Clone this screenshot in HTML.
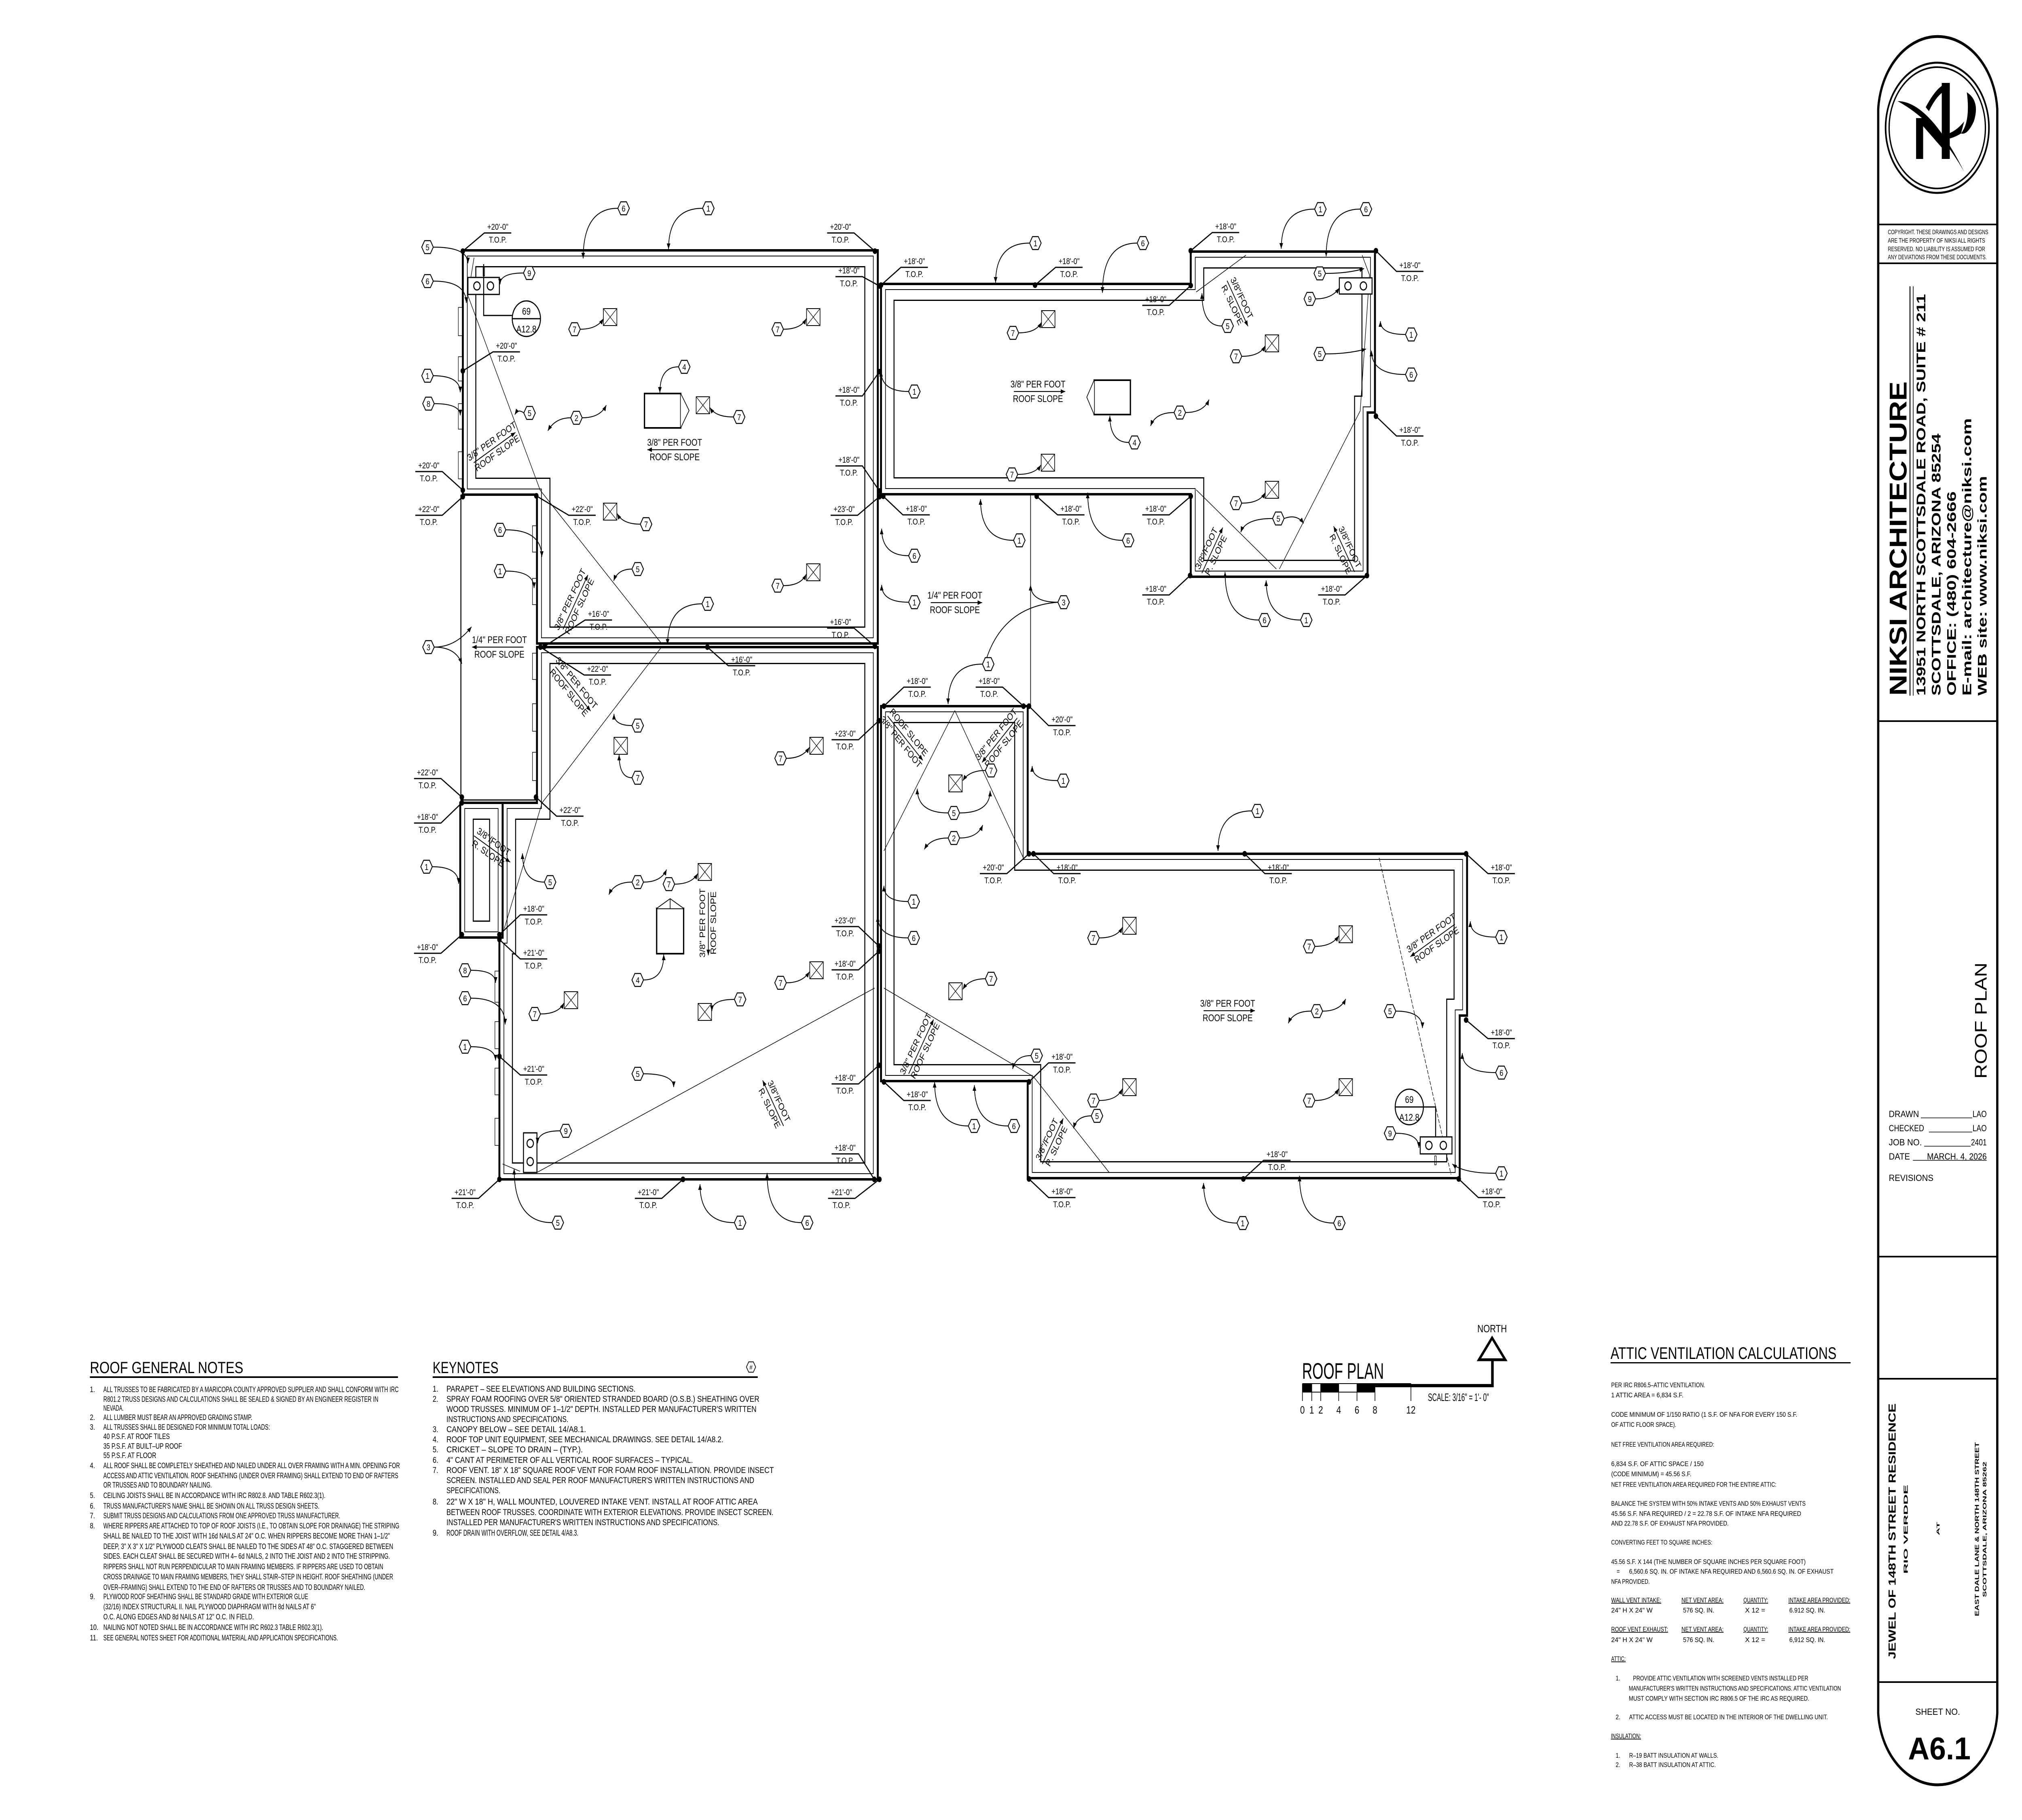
<!DOCTYPE html>
<html><head><meta charset="utf-8"><style>
html,body{margin:0;padding:0;background:#fff;overflow:hidden;width:100%;height:100%}
svg{display:block;position:absolute;left:0;top:0;width:100vw;height:100vh}
.p{font-family:"Liberation Sans Narrow","Liberation Sans",sans-serif;fill:#000}
.q{font-family:"Liberation Sans",sans-serif;fill:#000}
.s84{fill:none;stroke:#000;stroke-width:84}
.w78{fill:none;stroke:#fff;stroke-width:78}
.s30{fill:none;stroke:#000;stroke-width:30}
.w26{fill:none;stroke:#fff;stroke-width:26}
.o{fill:none;stroke:#000;stroke-width:6}
.ln{fill:none;stroke:#000;stroke-width:2}
.ld{fill:none;stroke:#000;stroke-width:2.2;marker-end:url(#ah)}
.el path{fill:none;stroke:#000;stroke-width:3}
.el text{font-family:"Liberation Sans Narrow","Liberation Sans",sans-serif;font-size:21px;text-anchor:middle}
.hx use{fill:#fff;stroke:#000;stroke-width:2.5}
.hx text{font-family:"Liberation Sans",sans-serif;font-size:21px;text-anchor:middle;fill:#000}
.sl text{font-family:"Liberation Sans Narrow","Liberation Sans",sans-serif;font-size:24px;text-anchor:middle}
</style></head><body>
<svg viewBox="0 0 6300 4500" preserveAspectRatio="none" xmlns="http://www.w3.org/2000/svg">
<defs>
<marker id="ah" viewBox="0 0 10 10" refX="10" refY="5" markerWidth="18" markerHeight="14" markerUnits="userSpaceOnUse" orient="auto"><path d="M0,1 L10,5 L0,9 z" fill="#000"/></marker>
<polygon id="pA" points="1442,619 2735,619 2735,1591 1673,1591 1673,1223 1442,1223"/>
<polygon id="pB" points="1673,1600 2735,1600 2735,2916 1556,2916 1556,2318 1566,2318 1566,1985 1673,1985"/>
<polygon id="pC" points="1434,1985 1566,1985 1566,2318 1434,2318"/>
<polygon id="pE" points="2745,702 3710,702 3710,622 4284,622 4284,1020 4261,1020 4261,1426 3710,1426 3710,1222 2745,1222"/>
<polygon id="pG" points="2745,1746 3202,1746 3202,2111 4571,2111 4571,2511 4548,2511 4548,2913 3202,2913 3202,2673 2745,2673"/>
<clipPath id="cA"><use href="#pA"/></clipPath>
<clipPath id="cB"><use href="#pB"/></clipPath>
<clipPath id="cC"><use href="#pC"/></clipPath>
<clipPath id="cE"><use href="#pE"/></clipPath>
<clipPath id="cG"><use href="#pG"/></clipPath>
<polygon id="hex" points="-18,0 -9,-16 9,-16 18,0 9,16 -9,16"/>
<g id="vent"><rect x="-21" y="-21" width="42" height="42" fill="#fff" stroke="#000" stroke-width="2"/><path d="M-21,-21 L21,21 M21,-21 L-21,21" stroke="#000" stroke-width="1.5"/></g>
</defs>

<g clip-path="url(#cA)"><use href="#pA" class="s84"/><use href="#pA" class="w78"/><use href="#pA" class="s30"/><use href="#pA" class="w26"/></g>
<g clip-path="url(#cB)"><use href="#pB" class="s84"/><use href="#pB" class="w78"/><use href="#pB" class="s30"/><use href="#pB" class="w26"/></g>
<g clip-path="url(#cC)"><use href="#pC" class="s84"/><use href="#pC" class="w78"/><use href="#pC" class="s30"/><use href="#pC" class="w26"/></g>
<g clip-path="url(#cE)"><use href="#pE" class="s84"/><use href="#pE" class="w78"/><use href="#pE" class="s30"/><use href="#pE" class="w26"/></g>
<g clip-path="url(#cG)"><use href="#pG" class="s84"/><use href="#pG" class="w78"/><use href="#pG" class="s30"/><use href="#pG" class="w26"/></g>
<use href="#pA" class="o"/><use href="#pB" class="o"/><use href="#pC" class="o"/><use href="#pE" class="o"/><use href="#pG" class="o"/>
<path d="M1436,1223 V1978 H1673" fill="none" stroke="#000" stroke-width="3"/>
<path d="M3211,1222 V1746" fill="none" stroke="#000" stroke-width="2"/>
<g fill="#fff" stroke="#000" stroke-width="1.5">
<rect x="1428" y="760" width="12" height="70"/><rect x="1428" y="882" width="12" height="60"/><rect x="1428" y="998" width="12" height="63"/><rect x="1428" y="1117" width="12" height="67"/>
<rect x="1542" y="2401" width="12" height="77"/><rect x="1542" y="2526" width="12" height="67"/><rect x="1542" y="2641" width="12" height="66"/><rect x="1542" y="2765" width="12" height="67"/>
<rect x="1659" y="1615" width="12" height="65"/><rect x="1659" y="1740" width="12" height="68"/><rect x="1659" y="1860" width="12" height="70"/><rect x="1659" y="1300" width="12" height="65"/><rect x="1659" y="1430" width="12" height="65"/>
</g>
<g class="ln" style="stroke-width:1.6">
<path d="M1477,637 L1458,731 L1683,1212 L2061,1591"/>
<path d="M2061,1600 L1689,1985 L1571,2296"/>
<path d="M1673,2899 L2725,2443"/><path d="M1566,2878 L1620,2896"/>
<path d="M3882,631 L3727,722"/><path d="M4244,631 L4267,680 L4238,1016 L3986,1407"/><path d="M3727,1211 L3977,1407"/>
<path d="M2975,1757 L2754,2104"/><path d="M2975,1757 L3189,2122"/><path d="M2754,2443 L3220,2662 L3456,2899"/>
<path d="M4297,2121 L4521,2904" stroke-dasharray="10,4"/>
</g>

<g fill="#fff" stroke="#000" stroke-width="4">
<rect x="2008" y="973" width="113" height="85"/><path d="M2121,973 L2147,1015 L2121,1058" stroke-width="2"/>
<rect x="3409" y="940" width="113" height="85"/><path d="M3409,940 L3386,982 L3409,1025" stroke-width="2"/>
<rect x="2046" y="2246" width="84" height="112"/><path d="M2046,2246 L2088,2222 L2130,2246 M2088,2222 V2246" stroke-width="2"/>
</g>
<g fill="#fff" stroke="#000" stroke-width="3">
<rect x="1458" y="686" width="98" height="42"/><circle cx="1486" cy="707" r="10"/><circle cx="1528" cy="707" r="10"/>
<rect x="4173" y="687" width="102" height="40"/><circle cx="4200" cy="707" r="10"/><circle cx="4248" cy="707" r="10"/>
<rect x="4425" y="2811" width="99" height="42"/><circle cx="4452" cy="2832" r="10"/><circle cx="4497" cy="2832" r="10"/>
<rect x="1631" y="2801" width="42" height="98"/><circle cx="1652" cy="2827" r="10"/><circle cx="1652" cy="2872" r="10"/>
</g>
<g fill="none" stroke="#000" stroke-width="3">
<path d="M1507,653 V780 H1596"/><rect x="1505" y="660" width="5" height="22" stroke-width="1.5"/>
<circle cx="1640" cy="788" r="44"/><path d="M1596,788 H1684"/>
<path d="M4435,2737 H4473 V2811"/><rect x="4470" y="2858" width="5" height="22" stroke-width="1.5"/>
<circle cx="4391" cy="2737" r="44"/><path d="M4347,2737 H4435"/>
</g>
<g class="q" font-size="24" text-anchor="middle">
<text x="1640" y="778">69</text><text x="1640" y="822">A12.8</text>
<text x="4391" y="2727">69</text><text x="4391" y="2771">A12.8</text>
</g>

<use href="#vent" x="1901" y="784"/><use href="#vent" x="2534" y="784"/><use href="#vent" x="2190" y="1002"/><use href="#vent" x="1901" y="1265"/><use href="#vent" x="2534" y="1415"/>
<use href="#vent" x="1934" y="1844"/><use href="#vent" x="2544" y="1844"/><use href="#vent" x="2196" y="2156"/><use href="#vent" x="1779" y="2473"/><use href="#vent" x="2196" y="2502"/><use href="#vent" x="2544" y="2399"/>
<use href="#vent" x="3266" y="789"/><use href="#vent" x="3963" y="849"/><use href="#vent" x="3265" y="1144"/><use href="#vent" x="3963" y="1211"/>
<use href="#vent" x="2977" y="1937"/><use href="#vent" x="2977" y="2451"/>
<use href="#vent" x="3519" y="2289"/><use href="#vent" x="4193" y="2310"/><use href="#vent" x="3519" y="2688"/><use href="#vent" x="4193" y="2688"/>

<g class="sl">
<g transform="translate(1540,1105) rotate(-30)"><text y="-8">3/8" PER FOOT</text><path d="M-75,2 H75" class="ld"/><text y="26">ROOF SLOPE</text></g>
<g transform="translate(2102,1112)"><text y="-10">3/8" PER FOOT</text><path d="M75,0 H-85" class="ld"/><text y="26">ROOF SLOPE</text></g>
<g transform="translate(1790,1490) rotate(-60)"><text y="-8">3/8" PER FOOT</text><path d="M-75,2 H80" class="ld"/><text y="26">ROOF SLOPE</text></g>
<g transform="translate(1556,1600)"><text y="-10">1/4" PER FOOT</text><path d="M75,0 H-85" class="ld"/><text y="26">ROOF SLOPE</text></g>
<g transform="translate(1530,2095) rotate(30)"><text y="-8">3/8"/FOOT</text><path d="M-60,2 H70" class="ld"/><text y="26">R. SLOPE</text></g>
<g transform="translate(1785,1700) rotate(45)"><text y="-8">3/8" PER FOOT</text><path d="M-75,2 H80" class="ld"/><text y="26">ROOF SLOPE</text></g>
<g transform="translate(2205,2282) rotate(-90)"><text y="-8">3/8" PER FOOT</text><path d="M75,2 H-80" class="ld"/><text y="26">ROOF SLOPE</text></g>
<g transform="translate(2413,2731) rotate(60)"><text y="-8">3/8"/FOOT</text><path d="M60,2 H-70" class="ld"/><text y="26">R. SLOPE</text></g>
<g transform="translate(3234,968)"><text y="-10">3/8" PER FOOT</text><path d="M-75,0 H85" class="ld"/><text y="26">ROOF SLOPE</text></g>
<g transform="translate(3855,745) rotate(60)"><text y="-8">3/8"/FOOT</text><path d="M-60,2 H70" class="ld"/><text y="26">R. SLOPE</text></g>
<g transform="translate(3773,1364) rotate(-60)"><text y="-8">3/8"/FOOT</text><path d="M-60,2 H70" class="ld"/><text y="26">R. SLOPE</text></g>
<g transform="translate(4192,1361) rotate(60)"><text y="-8">3/8"/FOOT</text><path d="M60,2 H-70" class="ld"/><text y="26">R. SLOPE</text></g>
<g transform="translate(2975,1490)"><text y="-10">1/4" PER FOOT</text><path d="M-75,0 H85" class="ld"/><text y="26">ROOF SLOPE</text></g>
<g transform="translate(2820,1822) rotate(45)"><text y="-8">ROOF SLOPE</text><path d="M-75,2 H80" class="ld"/><text y="26">3/8" PER FOOT</text></g>
<g transform="translate(3115,1827) rotate(-45)"><text y="-8">3/8" PER FOOT</text><path d="M75,2 H-80" class="ld"/><text y="26">ROOF SLOPE</text></g>
<g transform="translate(2867,2589) rotate(-60)"><text y="-8">3/8" PER FOOT</text><path d="M-75,2 H80" class="ld"/><text y="26">ROOF SLOPE</text></g>
<g transform="translate(3825,2499)"><text y="-10">3/8" PER FOOT</text><path d="M-75,0 H85" class="ld"/><text y="26">ROOF SLOPE</text></g>
<g transform="translate(4467,2321) rotate(-30)"><text y="-8">3/8" PER FOOT</text><path d="M75,2 H-85" class="ld"/><text y="26">ROOF SLOPE</text></g>
<g transform="translate(3276,2825) rotate(-60)"><text y="-8">3/8"/FOOT</text><path d="M-60,2 H70" class="ld"/><text y="26">R. SLOPE</text></g>
</g>

<g class="el">
<path d="M1442 621 L1509 576 H1593"/><text x="1551" y="568">+20'-0"</text><text x="1551" y="600">T.O.P.</text>
<path d="M2726 621 L2661 576 H2577"/><text x="2619" y="568">+20'-0"</text><text x="2619" y="600">T.O.P.</text>
<path d="M2740 707 L2687 684 H2603"/><text x="2645" y="676">+18'-0"</text><text x="2645" y="708">T.O.P.</text>
<path d="M1442 917 L1536 870 H1620"/><text x="1578" y="862">+20'-0"</text><text x="1578" y="894">T.O.P.</text>
<path d="M1442 1212 L1378 1166 H1294"/><text x="1336" y="1158">+20'-0"</text><text x="1336" y="1190">T.O.P.</text>
<path d="M1442 1228 L1378 1274 H1294"/><text x="1336" y="1266">+22'-0"</text><text x="1336" y="1298">T.O.P.</text>
<path d="M1671 1226 L1772 1274 H1856"/><text x="1814" y="1266">+22'-0"</text><text x="1814" y="1298">T.O.P.</text>
<path d="M2740 919 L2687 979 H2603"/><text x="2645" y="971">+18'-0"</text><text x="2645" y="1003">T.O.P.</text>
<path d="M2740 1214 L2687 1152 H2603"/><text x="2645" y="1144">+18'-0"</text><text x="2645" y="1176">T.O.P.</text>
<path d="M2740 1228 L2672 1274 H2588"/><text x="2630" y="1266">+23'-0"</text><text x="2630" y="1298">T.O.P.</text>
<path d="M1697 1598 L1823 1533 H1907"/><text x="1865" y="1525">+16'-0"</text><text x="1865" y="1557">T.O.P.</text>
<path d="M2726 1598 L2661 1553 H2577"/><text x="2619" y="1545">+16'-0"</text><text x="2619" y="1577">T.O.P.</text>
<path d="M1684 1600 L1820 1669 H1904"/><text x="1862" y="1661">+22'-0"</text><text x="1862" y="1693">T.O.P.</text>
<path d="M2204 1600 L2269 1646 H2353"/><text x="2311" y="1638">+16'-0"</text><text x="2311" y="1670">T.O.P.</text>
<path d="M2738 1782 L2675 1829 H2591"/><text x="2633" y="1821">+23'-0"</text><text x="2633" y="1853">T.O.P.</text>
<path d="M1439 1971 L1374 1925 H1290"/><text x="1332" y="1917">+22'-0"</text><text x="1332" y="1949">T.O.P.</text>
<path d="M1670 1971 L1734 2018 H1818"/><text x="1776" y="2010">+22'-0"</text><text x="1776" y="2042">T.O.P.</text>
<path d="M1439 1985 L1374 2035 H1290"/><text x="1332" y="2027">+18'-0"</text><text x="1332" y="2059">T.O.P.</text>
<path d="M1556 2311 L1621 2262 H1705"/><text x="1663" y="2254">+18'-0"</text><text x="1663" y="2286">T.O.P.</text>
<path d="M1439 2311 L1374 2357 H1290"/><text x="1332" y="2349">+18'-0"</text><text x="1332" y="2381">T.O.P.</text>
<path d="M1556 2323 L1621 2371 H1705"/><text x="1663" y="2363">+21'-0"</text><text x="1663" y="2395">T.O.P.</text>
<path d="M1556 2612 L1621 2658 H1705"/><text x="1663" y="2650">+21'-0"</text><text x="1663" y="2682">T.O.P.</text>
<path d="M2738 2339 L2675 2291 H2591"/><text x="2633" y="2283">+23'-0"</text><text x="2633" y="2315">T.O.P.</text>
<path d="M2738 2352 L2675 2398 H2591"/><text x="2633" y="2390">+18'-0"</text><text x="2633" y="2422">T.O.P.</text>
<path d="M2738 2634 L2675 2680 H2591"/><text x="2633" y="2672">+18'-0"</text><text x="2633" y="2704">T.O.P.</text>
<path d="M1556 2916 L1491 2963 H1407"/><text x="1449" y="2955">+21'-0"</text><text x="1449" y="2987">T.O.P.</text>
<path d="M2128 2916 L2062 2963 H1978"/><text x="2020" y="2955">+21'-0"</text><text x="2020" y="2987">T.O.P.</text>
<path d="M2724 2916 L2675 2853 H2591"/><text x="2633" y="2845">+18'-0"</text><text x="2633" y="2877">T.O.P.</text>
<path d="M2740 2916 L2664 2963 H2580"/><text x="2622" y="2955">+21'-0"</text><text x="2622" y="2987">T.O.P.</text>
<path d="M2745 705 L2807 661 H2891"/><text x="2849" y="653">+18'-0"</text><text x="2849" y="685">T.O.P.</text>
<path d="M3225 705 L3289 661 H3373"/><text x="3331" y="653">+18'-0"</text><text x="3331" y="685">T.O.P.</text>
<path d="M3710 620 L3777 575 H3861"/><text x="3819" y="567">+18'-0"</text><text x="3819" y="599">T.O.P.</text>
<path d="M3710 706 L3643 755 H3559"/><text x="3601" y="747">+18'-0"</text><text x="3601" y="779">T.O.P.</text>
<path d="M4287 620 L4351 671 H4435"/><text x="4393" y="663">+18'-0"</text><text x="4393" y="695">T.O.P.</text>
<path d="M4287 1029 L4351 1078 H4435"/><text x="4393" y="1070">+18'-0"</text><text x="4393" y="1102">T.O.P.</text>
<path d="M2752 1227 L2813 1273 H2897"/><text x="2855" y="1265">+18'-0"</text><text x="2855" y="1297">T.O.P.</text>
<path d="M3230 1227 L3295 1273 H3379"/><text x="3337" y="1265">+18'-0"</text><text x="3337" y="1297">T.O.P.</text>
<path d="M3710 1227 L3643 1273 H3559"/><text x="3601" y="1265">+18'-0"</text><text x="3601" y="1297">T.O.P.</text>
<path d="M3708 1423 L3643 1471 H3559"/><text x="3601" y="1463">+18'-0"</text><text x="3601" y="1495">T.O.P.</text>
<path d="M4259 1423 L4191 1471 H4107"/><text x="4149" y="1463">+18'-0"</text><text x="4149" y="1495">T.O.P.</text>
<path d="M2754 1746 L2816 1699 H2900"/><text x="2858" y="1691">+18'-0"</text><text x="2858" y="1723">T.O.P.</text>
<path d="M3189 1746 L3124 1699 H3040"/><text x="3082" y="1691">+18'-0"</text><text x="3082" y="1723">T.O.P.</text>
<path d="M3206 1746 L3267 1794 H3351"/><text x="3309" y="1786">+20'-0"</text><text x="3309" y="1818">T.O.P.</text>
<path d="M3206 2111 L3137 2160 H3053"/><text x="3095" y="2152">+20'-0"</text><text x="3095" y="2184">T.O.P.</text>
<path d="M3220 2111 L3283 2160 H3367"/><text x="3325" y="2152">+18'-0"</text><text x="3325" y="2184">T.O.P.</text>
<path d="M3878 2111 L3941 2160 H4025"/><text x="3983" y="2152">+18'-0"</text><text x="3983" y="2184">T.O.P.</text>
<path d="M4568 2111 L4636 2160 H4720"/><text x="4678" y="2152">+18'-0"</text><text x="4678" y="2184">T.O.P.</text>
<path d="M4568 2522 L4636 2568 H4720"/><text x="4678" y="2560">+18'-0"</text><text x="4678" y="2592">T.O.P.</text>
<path d="M2754 2675 L2816 2721 H2900"/><text x="2858" y="2713">+18'-0"</text><text x="2858" y="2745">T.O.P.</text>
<path d="M3206 2675 L3267 2628 H3351"/><text x="3309" y="2620">+18'-0"</text><text x="3309" y="2652">T.O.P.</text>
<path d="M3206 2915 L3267 2961 H3351"/><text x="3309" y="2953">+18'-0"</text><text x="3309" y="2985">T.O.P.</text>
<path d="M3874 2915 L3937 2869 H4021"/><text x="3979" y="2861">+18'-0"</text><text x="3979" y="2893">T.O.P.</text>
<path d="M4545 2915 L4606 2961 H4690"/><text x="4648" y="2953">+18'-0"</text><text x="4648" y="2985">T.O.P.</text>
</g>
<g fill="#000">
<circle cx="1442" cy="621" r="7"/><circle cx="2726" cy="621" r="7"/><circle cx="2740" cy="707" r="7"/><circle cx="1442" cy="917" r="7"/><circle cx="1442" cy="1212" r="7"/><circle cx="1442" cy="1228" r="7"/><circle cx="1671" cy="1226" r="7"/><circle cx="2740" cy="919" r="7"/><circle cx="2740" cy="1214" r="7"/><circle cx="2740" cy="1228" r="7"/><circle cx="1697" cy="1598" r="7"/><circle cx="2726" cy="1598" r="7"/>
<circle cx="1684" cy="1600" r="7"/><circle cx="2204" cy="1600" r="7"/><circle cx="2738" cy="1782" r="7"/><circle cx="1439" cy="1971" r="7"/><circle cx="1670" cy="1971" r="7"/><circle cx="1439" cy="1985" r="7"/><circle cx="1556" cy="2311" r="7"/><circle cx="1439" cy="2311" r="7"/><circle cx="1556" cy="2323" r="7"/><circle cx="1556" cy="2612" r="7"/><circle cx="2738" cy="2339" r="7"/><circle cx="2738" cy="2352" r="7"/><circle cx="2738" cy="2634" r="7"/><circle cx="1556" cy="2916" r="7"/><circle cx="2128" cy="2916" r="7"/><circle cx="2724" cy="2916" r="7"/><circle cx="2740" cy="2916" r="7"/>
<circle cx="2745" cy="705" r="7"/><circle cx="3225" cy="705" r="7"/><circle cx="3710" cy="620" r="7"/><circle cx="3710" cy="706" r="7"/><circle cx="4287" cy="620" r="7"/><circle cx="4287" cy="1029" r="7"/><circle cx="2752" cy="1227" r="7"/><circle cx="3230" cy="1227" r="7"/><circle cx="3710" cy="1227" r="7"/><circle cx="3708" cy="1423" r="7"/><circle cx="4259" cy="1423" r="7"/>
<circle cx="2754" cy="1746" r="7"/><circle cx="3189" cy="1746" r="7"/><circle cx="3206" cy="1746" r="7"/><circle cx="3206" cy="2111" r="7"/><circle cx="3220" cy="2111" r="7"/><circle cx="3878" cy="2111" r="7"/><circle cx="4568" cy="2111" r="7"/><circle cx="4568" cy="2522" r="7"/><circle cx="2754" cy="2675" r="7"/><circle cx="3206" cy="2675" r="7"/><circle cx="3206" cy="2915" r="7"/><circle cx="3874" cy="2915" r="7"/><circle cx="4545" cy="2915" r="7"/>
</g>

<g class="ld">
<path d="M1925 515 Q1817 515 1817 639"/><path d="M2189 515 Q2083 515 2083 616"/><path d="M1350 611 Q1458 611 1458 651"/><path d="M1350 695 Q1453 695 1453 749"/><path d="M1631 675 Q1558 675 1558 703"/><path d="M1350 929 Q1434 929 1434 970"/><path d="M1353 998 Q1434 998 1434 1027"/><path d="M1632 1021 Q1615 1010 1604 1025"/><path d="M1778 1033 Q1730 1033 1707 1065"/><path d="M1814 1033 Q1870 1033 1889 1002"/><path d="M2114 907 Q2056 907 2056 971"/><path d="M1808 814 Q1860 814 1880 788"/><path d="M2441 814 Q2495 814 2512 788"/><path d="M2285 1031 Q2230 1031 2212 1008"/><path d="M1995 1296 Q1940 1296 1923 1270"/><path d="M2441 1448 Q2495 1448 2512 1420"/><path d="M1576 1310 Q1688 1310 1688 1377"/><path d="M1576 1412 Q1664 1412 1664 1454"/><path d="M1969 1407 Q1925 1407 1912 1436"/><path d="M2187 1493 Q2080 1493 2080 1594"/><path d="M1353 1600 Q1420 1600 1469 1550"/><path d="M1353 1600 Q1420 1600 1439 1641"/>
<path d="M1969 1794 Q1913 1794 1913 1765"/><path d="M1969 1923 Q1929 1923 1929 1866"/><path d="M2450 1875 Q2500 1875 2522 1848"/><path d="M1696 2181 Q1628 2181 1628 2110"/><path d="M1969 2181 Q1915 2181 1897 2212"/><path d="M2005 2181 Q2060 2181 2077 2150"/><path d="M2102 2186 Q2155 2186 2174 2160"/><path d="M2005 2423 Q2068 2423 2068 2360"/><path d="M1467 2399 Q1544 2399 1544 2430"/><path d="M1467 2468 Q1574 2468 1574 2533"/><path d="M1467 2588 Q1544 2588 1544 2622"/><path d="M1684 2507 Q1740 2507 1757 2480"/><path d="M2288 2471 Q2218 2471 2218 2500"/><path d="M2450 2430 Q2500 2430 2522 2403"/><path d="M2005 2655 Q2099 2655 2099 2688"/><path d="M1745 2796 Q1675 2796 1675 2827"/><path d="M1720 3023 Q1602 3023 1602 2890"/><path d="M2288 3023 Q2181 3023 2181 2928"/><path d="M2497 3023 Q2390 3023 2390 2900"/><path d="M1347 2143 Q1429 2143 1429 2185"/>
<path d="M3208 601 Q3102 601 3102 699"/><path d="M3543 601 Q3435 601 3435 724"/><path d="M4096 517 Q3992 517 3992 615"/><path d="M4238 517 Q4132 517 4132 634"/><path d="M4130 676 Q4200 676 4250 664"/><path d="M4099 739 Q4150 739 4173 712"/><path d="M3807 806 Q3745 806 3745 725"/><path d="M4379 827 Q4301 827 4301 794"/><path d="M4130 875 Q4200 875 4256 863"/><path d="M4379 926 Q4273 926 4273 867"/><path d="M3174 823 Q3228 823 3245 797"/><path d="M3869 881 Q3925 881 3942 855"/><path d="M2831 968 Q2745 968 2745 917"/><path d="M3517 1094 Q3458 1094 3458 1028"/><path d="M3658 1020 Q3600 1020 3585 1053"/><path d="M3694 1020 Q3750 1020 3767 988"/><path d="M3171 1173 Q3225 1173 3243 1150"/><path d="M3869 1244 Q3925 1244 3942 1218"/><path d="M3965 1282 Q3880 1282 3866 1316"/><path d="M4001 1282 Q4040 1270 4062 1294"/><path d="M3158 1336 Q3055 1336 3055 1234"/><path d="M3497 1336 Q3389 1336 3389 1218"/><path d="M2831 1374 Q2747 1374 2747 1307"/><path d="M2831 1489 Q2747 1489 2747 1446"/><path d="M3296 1489 Q3211 1489 3211 1446"/><path d="M3296 1489 Q3120 1500 3069 1640"/><path d="M3922 1533 Q3817 1533 3817 1414"/><path d="M4052 1533 Q3945 1533 3945 1435"/>
<path d="M3061 1642 Q2954 1642 2954 1741"/><path d="M3295 1930 Q3216 1930 3216 1894"/><path d="M3070 1905 Q3020 1905 3000 1930"/><path d="M2954 2010 Q2858 2010 2858 1950"/><path d="M2990 2010 Q3085 2010 3085 1955"/><path d="M2954 2072 Q2900 2072 2880 2100"/><path d="M2990 2072 Q3045 2072 3062 2040"/><path d="M2829 2229 Q2754 2229 2754 2190"/><path d="M2829 2319 Q2735 2319 2735 2265"/><path d="M3070 2420 Q3020 2420 3000 2446"/><path d="M3900 2005 Q3795 2005 3795 2104"/><path d="M3425 2319 Q3480 2319 3497 2293"/><path d="M4097 2340 Q4150 2340 4171 2314"/><path d="M4085 2500 Q4030 2500 4014 2530"/><path d="M4121 2500 Q4175 2500 4193 2470"/><path d="M4349 2500 Q4432 2500 4432 2542"/><path d="M4660 2317 Q4581 2317 4581 2278"/><path d="M4660 2652 Q4556 2652 4556 2604"/><path d="M3212 2610 Q3165 2610 3155 2643"/><path d="M3017 2784 Q2912 2784 2912 2675"/><path d="M3141 2784 Q3036 2784 3036 2683"/><path d="M3425 2721 Q3480 2721 3497 2692"/><path d="M4097 2721 Q4150 2721 4171 2692"/><path d="M3400 2759 Q3355 2759 3345 2790"/><path d="M4349 2802 Q4421 2802 4421 2838"/><path d="M4660 2901 Q4560 2901 4525 2878"/><path d="M3854 3024 Q3750 3024 3750 2925"/><path d="M4155 3024 Q4049 3024 4049 2907"/>
</g>

<g class="hx">
<g transform="translate(1943,515)"><use href="#hex"/><text y="8">6</text></g>
<g transform="translate(2207,515)"><use href="#hex"/><text y="8">1</text></g>
<g transform="translate(1332,611)"><use href="#hex"/><text y="8">5</text></g>
<g transform="translate(1332,695)"><use href="#hex"/><text y="8">6</text></g>
<g transform="translate(1649,675)"><use href="#hex"/><text y="8">9</text></g>
<g transform="translate(1332,929)"><use href="#hex"/><text y="8">1</text></g>
<g transform="translate(1335,998)"><use href="#hex"/><text y="8">8</text></g>
<g transform="translate(1650,1021)"><use href="#hex"/><text y="8">5</text></g>
<g transform="translate(1796,1033)"><use href="#hex"/><text y="8">2</text></g>
<g transform="translate(2132,907)"><use href="#hex"/><text y="8">4</text></g>
<g transform="translate(1790,814)"><use href="#hex"/><text y="8">7</text></g>
<g transform="translate(2423,814)"><use href="#hex"/><text y="8">7</text></g>
<g transform="translate(2303,1031)"><use href="#hex"/><text y="8">7</text></g>
<g transform="translate(2013,1296)"><use href="#hex"/><text y="8">7</text></g>
<g transform="translate(2423,1448)"><use href="#hex"/><text y="8">7</text></g>
<g transform="translate(1558,1310)"><use href="#hex"/><text y="8">6</text></g>
<g transform="translate(1558,1412)"><use href="#hex"/><text y="8">1</text></g>
<g transform="translate(1987,1407)"><use href="#hex"/><text y="8">5</text></g>
<g transform="translate(2205,1493)"><use href="#hex"/><text y="8">1</text></g>
<g transform="translate(1335,1600)"><use href="#hex"/><text y="8">3</text></g>
<g transform="translate(1987,1794)"><use href="#hex"/><text y="8">5</text></g>
<g transform="translate(1987,1923)"><use href="#hex"/><text y="8">7</text></g>
<g transform="translate(2432,1875)"><use href="#hex"/><text y="8">7</text></g>
<g transform="translate(1714,2181)"><use href="#hex"/><text y="8">5</text></g>
<g transform="translate(1987,2181)"><use href="#hex"/><text y="8">2</text></g>
<g transform="translate(2084,2186)"><use href="#hex"/><text y="8">7</text></g>
<g transform="translate(1987,2423)"><use href="#hex"/><text y="8">4</text></g>
<g transform="translate(1449,2399)"><use href="#hex"/><text y="8">8</text></g>
<g transform="translate(1449,2468)"><use href="#hex"/><text y="8">6</text></g>
<g transform="translate(1449,2588)"><use href="#hex"/><text y="8">1</text></g>
<g transform="translate(1666,2507)"><use href="#hex"/><text y="8">7</text></g>
<g transform="translate(2306,2471)"><use href="#hex"/><text y="8">7</text></g>
<g transform="translate(2432,2430)"><use href="#hex"/><text y="8">7</text></g>
<g transform="translate(1987,2655)"><use href="#hex"/><text y="8">5</text></g>
<g transform="translate(1763,2796)"><use href="#hex"/><text y="8">9</text></g>
<g transform="translate(1738,3023)"><use href="#hex"/><text y="8">5</text></g>
<g transform="translate(2306,3023)"><use href="#hex"/><text y="8">1</text></g>
<g transform="translate(2515,3023)"><use href="#hex"/><text y="8">6</text></g>
<g transform="translate(1329,2143)"><use href="#hex"/><text y="8">1</text></g>
<g transform="translate(3226,601)"><use href="#hex"/><text y="8">1</text></g>
<g transform="translate(3561,601)"><use href="#hex"/><text y="8">6</text></g>
<g transform="translate(4114,517)"><use href="#hex"/><text y="8">1</text></g>
<g transform="translate(4256,517)"><use href="#hex"/><text y="8">6</text></g>
<g transform="translate(4112,676)"><use href="#hex"/><text y="8">5</text></g>
<g transform="translate(4081,739)"><use href="#hex"/><text y="8">9</text></g>
<g transform="translate(3825,806)"><use href="#hex"/><text y="8">5</text></g>
<g transform="translate(4397,827)"><use href="#hex"/><text y="8">1</text></g>
<g transform="translate(4112,875)"><use href="#hex"/><text y="8">5</text></g>
<g transform="translate(4397,926)"><use href="#hex"/><text y="8">6</text></g>
<g transform="translate(3156,823)"><use href="#hex"/><text y="8">7</text></g>
<g transform="translate(3851,881)"><use href="#hex"/><text y="8">7</text></g>
<g transform="translate(2849,968)"><use href="#hex"/><text y="8">1</text></g>
<g transform="translate(3535,1094)"><use href="#hex"/><text y="8">4</text></g>
<g transform="translate(3676,1020)"><use href="#hex"/><text y="8">2</text></g>
<g transform="translate(3153,1173)"><use href="#hex"/><text y="8">7</text></g>
<g transform="translate(3851,1244)"><use href="#hex"/><text y="8">7</text></g>
<g transform="translate(3983,1282)"><use href="#hex"/><text y="8">5</text></g>
<g transform="translate(3176,1336)"><use href="#hex"/><text y="8">1</text></g>
<g transform="translate(3515,1336)"><use href="#hex"/><text y="8">6</text></g>
<g transform="translate(2849,1374)"><use href="#hex"/><text y="8">6</text></g>
<g transform="translate(2849,1489)"><use href="#hex"/><text y="8">1</text></g>
<g transform="translate(3314,1489)"><use href="#hex"/><text y="8">3</text></g>
<g transform="translate(3940,1533)"><use href="#hex"/><text y="8">6</text></g>
<g transform="translate(4070,1533)"><use href="#hex"/><text y="8">1</text></g>
<g transform="translate(3079,1642)"><use href="#hex"/><text y="8">1</text></g>
<g transform="translate(3313,1930)"><use href="#hex"/><text y="8">1</text></g>
<g transform="translate(3088,1905)"><use href="#hex"/><text y="8">7</text></g>
<g transform="translate(2972,2010)"><use href="#hex"/><text y="8">5</text></g>
<g transform="translate(2972,2072)"><use href="#hex"/><text y="8">2</text></g>
<g transform="translate(2847,2229)"><use href="#hex"/><text y="8">1</text></g>
<g transform="translate(2847,2319)"><use href="#hex"/><text y="8">6</text></g>
<g transform="translate(3088,2420)"><use href="#hex"/><text y="8">7</text></g>
<g transform="translate(3918,2005)"><use href="#hex"/><text y="8">1</text></g>
<g transform="translate(3407,2319)"><use href="#hex"/><text y="8">7</text></g>
<g transform="translate(4079,2340)"><use href="#hex"/><text y="8">7</text></g>
<g transform="translate(4103,2500)"><use href="#hex"/><text y="8">2</text></g>
<g transform="translate(4331,2500)"><use href="#hex"/><text y="8">5</text></g>
<g transform="translate(4678,2317)"><use href="#hex"/><text y="8">1</text></g>
<g transform="translate(4678,2652)"><use href="#hex"/><text y="8">6</text></g>
<g transform="translate(3230,2610)"><use href="#hex"/><text y="8">5</text></g>
<g transform="translate(3035,2784)"><use href="#hex"/><text y="8">1</text></g>
<g transform="translate(3159,2784)"><use href="#hex"/><text y="8">6</text></g>
<g transform="translate(3407,2721)"><use href="#hex"/><text y="8">7</text></g>
<g transform="translate(4079,2721)"><use href="#hex"/><text y="8">7</text></g>
<g transform="translate(3418,2759)"><use href="#hex"/><text y="8">5</text></g>
<g transform="translate(4331,2802)"><use href="#hex"/><text y="8">9</text></g>
<g transform="translate(4678,2901)"><use href="#hex"/><text y="8">1</text></g>
<g transform="translate(3872,3024)"><use href="#hex"/><text y="8">1</text></g>
<g transform="translate(4173,3024)"><use href="#hex"/><text y="8">6</text></g>
</g>

<text class="q" x="4057" y="3409" font-size="56" textLength="255" lengthAdjust="spacingAndGlyphs">ROOF PLAN</text>
<g fill="#000">
<rect x="4058" y="3421" width="29" height="21"/><rect x="4115" y="3421" width="56" height="21"/><rect x="4228" y="3421" width="56" height="21"/>
</g>
<g fill="none" stroke="#000">
<path d="M4058,3421 H4396 M4058,3442 H4284" stroke-width="2"/>
<path d="M4284,3426 H4650 V3363" stroke-width="8"/>
<path d="M4649,3308 L4608,3362 H4690 Z" stroke-width="7"/>
<path d="M4058,3421 V3464 M4087,3421 V3464 M4115,3421 V3464 M4171,3421 V3464 M4228,3421 V3464 M4284,3421 V3464 M4396,3421 V3464" stroke-width="2"/>
</g>
<g class="p" font-size="26" text-anchor="middle">
<text x="4058" y="3495">0</text><text x="4087" y="3495">1</text><text x="4115" y="3495">2</text><text x="4171" y="3495">4</text><text x="4228" y="3495">6</text><text x="4284" y="3495">8</text><text x="4396" y="3495">12</text>
<text x="4649" y="3294">NORTH</text>
</g>
<text class="p" x="4449" y="3464" font-size="27" textLength="190" lengthAdjust="spacingAndGlyphs">SCALE: 3/16" = 1'- 0"</text>

<text class="q" x="280" y="3395" font-size="40" textLength="478" lengthAdjust="spacingAndGlyphs">ROOF GENERAL NOTES</text>
<rect x="280" y="3403" width="960" height="4" fill="#000"/>
<g class="p" font-size="19">
<text x="280" y="3442">1.</text><text x="322" y="3442" textLength="920" lengthAdjust="spacingAndGlyphs">ALL TRUSSES TO BE FABRICATED BY A MARICOPA COUNTY APPROVED SUPPLIER AND SHALL CONFORM WITH IRC</text>
<text x="322" y="3466" textLength="857" lengthAdjust="spacingAndGlyphs">R801.2 TRUSS DESIGNS AND CALCULATIONS SHALL BE SEALED &amp; SIGNED BY AN ENGINEER REGISTER IN</text>
<text x="322" y="3488" textLength="63" lengthAdjust="spacingAndGlyphs">NEVADA.</text>
<text x="280" y="3511">2.</text><text x="322" y="3511" textLength="464" lengthAdjust="spacingAndGlyphs">ALL LUMBER MUST BEAR AN APPROVED GRADING STAMP.</text>
<text x="280" y="3535">3.</text><text x="322" y="3535" textLength="519" lengthAdjust="spacingAndGlyphs">ALL TRUSSES SHALL BE DESIGNED FOR MINIMUM TOTAL LOADS:</text>
<text x="322" y="3558" textLength="207" lengthAdjust="spacingAndGlyphs">40 P.S.F. AT ROOF TILES</text>
<text x="322" y="3582" textLength="245" lengthAdjust="spacingAndGlyphs">35 P.S.F. AT BUILT–UP ROOF</text>
<text x="322" y="3605" textLength="165" lengthAdjust="spacingAndGlyphs">55 P.S.F. AT FLOOR</text>
<text x="280" y="3630">4.</text><text x="322" y="3630" textLength="924" lengthAdjust="spacingAndGlyphs">ALL ROOF SHALL BE COMPLETELY SHEATHED AND NAILED UNDER ALL OVER FRAMING WITH A MIN. OPENING FOR</text>
<text x="322" y="3655" textLength="919" lengthAdjust="spacingAndGlyphs">ACCESS AND ATTIC VENTILATION. ROOF SHEATHING (UNDER OVER FRAMING) SHALL EXTEND TO END OF RAFTERS</text>
<text x="322" y="3678" textLength="338" lengthAdjust="spacingAndGlyphs">OR TRUSSES AND TO BOUNDARY NAILING.</text>
<text x="280" y="3704">5.</text><text x="322" y="3704" textLength="692" lengthAdjust="spacingAndGlyphs">CEILING JOISTS SHALL BE IN ACCORDANCE WITH IRC R802.8. AND TABLE R602.3(1).</text>
<text x="280" y="3730">6.</text><text x="322" y="3730" textLength="673" lengthAdjust="spacingAndGlyphs">TRUSS MANUFACTURER'S NAME SHALL BE SHOWN ON ALL TRUSS DESIGN SHEETS.</text>
<text x="280" y="3754">7.</text><text x="322" y="3754" textLength="738" lengthAdjust="spacingAndGlyphs">SUBMIT TRUSS DESIGNS AND CALCULATIONS FROM ONE APPROVED TRUSS MANUFACTURER.</text>
<text x="280" y="3779">8.</text><text x="322" y="3779" textLength="922" lengthAdjust="spacingAndGlyphs">WHERE RIPPERS ARE ATTACHED TO TOP OF ROOF JOISTS (I.E., TO OBTAIN SLOPE FOR DRAINAGE) THE STRIPING</text>
<text x="322" y="3804" textLength="893" lengthAdjust="spacingAndGlyphs">SHALL BE NAILED TO THE JOIST WITH 16d NAILS AT 24" O.C. WHEN RIPPERS BECOME MORE THAN 1–1/2"</text>
<text x="322" y="3830" textLength="903" lengthAdjust="spacingAndGlyphs">DEEP, 3" X 3" X 1/2" PLYWOOD CLEATS SHALL BE NAILED TO THE SIDES AT 48" O.C. STAGGERED BETWEEN</text>
<text x="322" y="3854" textLength="893" lengthAdjust="spacingAndGlyphs">SIDES. EACH CLEAT SHALL BE SECURED WITH 4– 6d NAILS, 2 INTO THE JOIST AND 2 INTO THE STRIPPING.</text>
<text x="322" y="3880" textLength="872" lengthAdjust="spacingAndGlyphs">RIPPERS SHALL NOT RUN PERPENDICULAR TO MAIN FRAMING MEMBERS. IF RIPPERS ARE USED TO OBTAIN</text>
<text x="322" y="3905" textLength="903" lengthAdjust="spacingAndGlyphs">CROSS DRAINAGE TO MAIN FRAMING MEMBERS, THEY SHALL STAIR–STEP IN HEIGHT. ROOF SHEATHING (UNDER</text>
<text x="322" y="3931" textLength="816" lengthAdjust="spacingAndGlyphs">OVER–FRAMING) SHALL EXTEND TO THE END OF RAFTERS OR TRUSSES AND TO BOUNDARY NAILED.</text>
<text x="280" y="3954">9.</text><text x="322" y="3954" textLength="638" lengthAdjust="spacingAndGlyphs">PLYWOOD ROOF SHEATHING SHALL BE STANDARD GRADE WITH EXTERIOR GLUE</text>
<text x="322" y="3979" textLength="662" lengthAdjust="spacingAndGlyphs">(32/16) INDEX STRUCTURAL II. NAIL PLYWOOD DIAPHRAGM WITH 8d NAILS AT 6"</text>
<text x="322" y="4004" textLength="469" lengthAdjust="spacingAndGlyphs">O.C. ALONG EDGES AND 8d NAILS AT 12" O.C. IN FIELD.</text>
<text x="280" y="4030">10.</text><text x="322" y="4030" textLength="685" lengthAdjust="spacingAndGlyphs">NAILING NOT NOTED SHALL BE IN ACCORDANCE WITH IRC R602.3 TABLE R602.3(1).</text>
<text x="280" y="4056">11.</text><text x="322" y="4056" textLength="731" lengthAdjust="spacingAndGlyphs">SEE GENERAL NOTES SHEET FOR ADDITIONAL MATERIAL AND APPLICATION SPECIFICATIONS.</text>
</g>

<text class="q" x="1348" y="3395" font-size="40" textLength="205" lengthAdjust="spacingAndGlyphs">KEYNOTES</text>
<rect x="1348" y="3403" width="1013" height="4" fill="#000"/>
<g class="hx" transform="translate(2340,3380) scale(0.8)"><use href="#hex"/><text y="8">#</text></g>
<g class="p" font-size="21">
<text x="1348" y="3441">1.</text><text x="1391" y="3441" textLength="589" lengthAdjust="spacingAndGlyphs">PARAPET – SEE ELEVATIONS AND BUILDING SECTIONS.</text>
<text x="1348" y="3466">2.</text><text x="1391" y="3466" textLength="975" lengthAdjust="spacingAndGlyphs">SPRAY FOAM ROOFING OVER 5/8" ORIENTED STRANDED BOARD (O.S.B.) SHEATHING OVER</text>
<text x="1391" y="3491" textLength="966" lengthAdjust="spacingAndGlyphs">WOOD TRUSSES. MINIMUM OF 1–1/2" DEPTH. INSTALLED PER MANUFACTURER'S WRITTEN</text>
<text x="1391" y="3516" textLength="380" lengthAdjust="spacingAndGlyphs">INSTRUCTIONS AND SPECIFICATIONS.</text>
<text x="1348" y="3541">3.</text><text x="1391" y="3541" textLength="435" lengthAdjust="spacingAndGlyphs">CANOPY BELOW – SEE DETAIL 14/A8.1.</text>
<text x="1348" y="3566">4.</text><text x="1391" y="3566" textLength="863" lengthAdjust="spacingAndGlyphs">ROOF TOP UNIT EQUIPMENT, SEE MECHANICAL DRAWINGS. SEE DETAIL 14/A8.2.</text>
<text x="1348" y="3591">5.</text><text x="1391" y="3591" textLength="425" lengthAdjust="spacingAndGlyphs">CRICKET – SLOPE TO DRAIN – (TYP.).</text>
<text x="1348" y="3617">6.</text><text x="1391" y="3617" textLength="768" lengthAdjust="spacingAndGlyphs">4" CANT AT PERIMETER OF ALL VERTICAL ROOF SURFACES – TYPICAL.</text>
<text x="1348" y="3642">7.</text><text x="1391" y="3642" textLength="1020" lengthAdjust="spacingAndGlyphs">ROOF VENT. 18" X 18" SQUARE ROOF VENT FOR FOAM ROOF INSTALLATION. PROVIDE INSECT</text>
<text x="1391" y="3667" textLength="959" lengthAdjust="spacingAndGlyphs">SCREEN. INSTALLED AND SEAL PER ROOF MANUFACTURER'S WRITTEN INSTRUCTIONS AND</text>
<text x="1391" y="3692" textLength="168" lengthAdjust="spacingAndGlyphs">SPECIFICATIONS.</text>
<text x="1348" y="3720">8.</text><text x="1391" y="3720" textLength="970" lengthAdjust="spacingAndGlyphs">22" W X 18" H, WALL MOUNTED, LOUVERED INTAKE VENT. INSTALL AT ROOF ATTIC AREA</text>
<text x="1391" y="3746" textLength="1019" lengthAdjust="spacingAndGlyphs">BETWEEN ROOF TRUSSES. COORDINATE WITH EXTERIOR ELEVATIONS. PROVIDE INSECT SCREEN.</text>
<text x="1391" y="3771" textLength="850" lengthAdjust="spacingAndGlyphs">INSTALLED PER MANUFACTURER'S WRITTEN INSTRUCTIONS AND SPECIFICATIONS.</text>
<text x="1348" y="3797">9.</text><text x="1391" y="3797" textLength="411" lengthAdjust="spacingAndGlyphs">ROOF DRAIN WITH OVERFLOW, SEE DETAIL 4/A8.3.</text>
</g>

<text class="q" x="5018" y="3360" font-size="42" textLength="704" lengthAdjust="spacingAndGlyphs">ATTIC VENTILATION CALCULATIONS</text>
<rect x="5018" y="3368" width="748" height="3" fill="#000"/>
<g class="q" font-size="17">
<text x="5020" y="3430" textLength="293" lengthAdjust="spacingAndGlyphs">PER IRC R806.5–ATTIC VENTILATION.</text>
<text x="5020" y="3455" textLength="225" lengthAdjust="spacingAndGlyphs">1 ATTIC AREA = 6,834 S.F.</text>
<text x="5020" y="3503" textLength="580" lengthAdjust="spacingAndGlyphs">CODE MINIMUM OF 1/150 RATIO (1 S.F. OF NFA FOR EVERY 150 S.F.</text>
<text x="5020" y="3528" textLength="203" lengthAdjust="spacingAndGlyphs">OF ATTIC FLOOR SPACE).</text>
<text x="5020" y="3577" textLength="321" lengthAdjust="spacingAndGlyphs">NET FREE VENTILATION AREA REQUIRED:</text>
<text x="5020" y="3625" textLength="288" lengthAdjust="spacingAndGlyphs">6,834 S.F. OF ATTIC SPACE / 150</text>
<text x="5020" y="3650" textLength="250" lengthAdjust="spacingAndGlyphs">(CODE MINIMUM) = 45.56 S.F.</text>
<text x="5020" y="3676" textLength="515" lengthAdjust="spacingAndGlyphs">NET FREE VENTILATION AREA REQUIRED FOR THE ENTIRE ATTIC:</text>
<text x="5020" y="3723" textLength="606" lengthAdjust="spacingAndGlyphs">BALANCE THE SYSTEM WITH 50% INTAKE VENTS AND 50% EXHAUST VENTS</text>
<text x="5020" y="3748" textLength="592" lengthAdjust="spacingAndGlyphs">45.56 S.F. NFA REQUIRED / 2 = 22.78 S.F. OF INTAKE NFA REQUIRED</text>
<text x="5020" y="3772" textLength="366" lengthAdjust="spacingAndGlyphs">AND 22.78 S.F. OF EXHAUST NFA PROVIDED.</text>
<text x="5020" y="3819" textLength="315" lengthAdjust="spacingAndGlyphs">CONVERTING FEET TO SQUARE INCHES:</text>
<text x="5020" y="3867" textLength="606" lengthAdjust="spacingAndGlyphs">45.56 S.F. X 144 (THE NUMBER OF SQUARE INCHES PER SQUARE FOOT)</text>
<text x="5037" y="3891">=</text><text x="5076" y="3891" textLength="637" lengthAdjust="spacingAndGlyphs">6,560.6 SQ. IN. OF INTAKE NFA REQUIRED AND 6,560.6 SQ. IN. OF EXHAUST</text>
<text x="5020" y="3916" textLength="120" lengthAdjust="spacingAndGlyphs">NFA PROVIDED.</text>
<text x="5020" y="3962" textLength="156" lengthAdjust="spacingAndGlyphs" text-decoration="underline">WALL VENT INTAKE:</text>
<text x="5239" y="3962" textLength="131" lengthAdjust="spacingAndGlyphs" text-decoration="underline">NET VENT AREA:</text>
<text x="5432" y="3962" textLength="77" lengthAdjust="spacingAndGlyphs" text-decoration="underline">QUANTITY:</text>
<text x="5572" y="3962" textLength="193" lengthAdjust="spacingAndGlyphs" text-decoration="underline">INTAKE AREA PROVIDED:</text>
<text x="5020" y="3987" textLength="129" lengthAdjust="spacingAndGlyphs">24" H X 24" W</text>
<text x="5244" y="3987" textLength="97" lengthAdjust="spacingAndGlyphs">576 SQ. IN.</text>
<text x="5437" y="3987" textLength="63" lengthAdjust="spacingAndGlyphs">X 12 =</text>
<text x="5575" y="3987" textLength="112" lengthAdjust="spacingAndGlyphs">6.912 SQ. IN.</text>
<text x="5020" y="4034" textLength="177" lengthAdjust="spacingAndGlyphs" text-decoration="underline">ROOF VENT EXHAUST:</text>
<text x="5239" y="4034" textLength="131" lengthAdjust="spacingAndGlyphs" text-decoration="underline">NET VENT AREA:</text>
<text x="5432" y="4034" textLength="77" lengthAdjust="spacingAndGlyphs" text-decoration="underline">QUANTITY:</text>
<text x="5572" y="4034" textLength="193" lengthAdjust="spacingAndGlyphs" text-decoration="underline">INTAKE AREA PROVIDED:</text>
<text x="5020" y="4060" textLength="129" lengthAdjust="spacingAndGlyphs">24" H X 24" W</text>
<text x="5244" y="4060" textLength="97" lengthAdjust="spacingAndGlyphs">576 SQ. IN.</text>
<text x="5437" y="4060" textLength="63" lengthAdjust="spacingAndGlyphs">X 12 =</text>
<text x="5575" y="4060" textLength="112" lengthAdjust="spacingAndGlyphs">6,912 SQ. IN.</text>
<text x="5020" y="4107" textLength="45" lengthAdjust="spacingAndGlyphs" text-decoration="underline">ATTIC:</text>
<text x="5034" y="4155">1.</text><text x="5088" y="4155" textLength="546" lengthAdjust="spacingAndGlyphs">PROVIDE ATTIC VENTILATION WITH SCREENED VENTS INSTALLED PER</text>
<text x="5075" y="4180" textLength="661" lengthAdjust="spacingAndGlyphs">MANUFACTURER'S WRITTEN INSTRUCTIONS AND SPECIFICATIONS. ATTIC VENTILATION</text>
<text x="5075" y="4205" textLength="562" lengthAdjust="spacingAndGlyphs">MUST COMPLY WITH SECTION IRC R806.5 OF THE IRC AS REQUIRED.</text>
<text x="5034" y="4251">2.</text><text x="5076" y="4251" textLength="619" lengthAdjust="spacingAndGlyphs">ATTIC ACCESS MUST BE LOCATED IN THE INTERIOR OF THE DWELLING UNIT.</text>
<text x="5019" y="4298" textLength="94" lengthAdjust="spacingAndGlyphs" text-decoration="underline">INSULATION:</text>
<text x="5034" y="4346">1.</text><text x="5076" y="4346" textLength="278" lengthAdjust="spacingAndGlyphs">R–19 BATT INSULATION AT WALLS.</text>
<text x="5034" y="4369">2.</text><text x="5076" y="4369" textLength="270" lengthAdjust="spacingAndGlyphs">R–38 BATT INSULATION AT ATTIC.</text>
</g>

<path d="M5852,4236 V270 A186,194 0 0 1 6223,270 V4236 A186,191 0 0 1 5852,4236 Z" fill="none" stroke="#000" stroke-width="7"/>
<g stroke="#000" stroke-width="4">
<path d="M5852,555 H6223 M5852,651 H6223 M5852,1783 H6223 M5852,3107 H6223 M5852,3409 H6223 M5852,4159 H6223"/>
</g>
<circle cx="6036" cy="316" r="161" fill="none" stroke="#000" stroke-width="5"/>
<circle cx="6036" cy="316" r="150" fill="none" stroke="#000" stroke-width="4"/>
<g fill="#000">
<polygon points="5970,292 5992,292 5992,393 5970,393"/>
<polygon points="5970,292 5995,292 6075,365 6050,365"/>
<polygon points="6050,205 6075,205 6075,393 6050,393"/>
<path d="M5912,250 Q6010,250 6120,425 Q6030,300 5912,250 Z"/>
<path d="M6000,265 Q6040,205 6075,205 L6075,220 Q6040,225 6010,275 Z"/>
<path d="M6128,228 Q6170,250 6150,300 Q6130,335 6110,330 Q6140,300 6128,228 Z"/>
<path d="M6050,335 Q6090,330 6120,300 L6110,330 Q6080,345 6050,345 Z"/>
</g>
<g class="q" font-size="16">
<text x="5882" y="579" textLength="313" lengthAdjust="spacingAndGlyphs">COPYRIGHT. THESE DRAWINGS AND DESIGNS</text>
<text x="5882" y="600" textLength="303" lengthAdjust="spacingAndGlyphs">ARE THE PROPERTY OF NIKSI ALL RIGHTS</text>
<text x="5882" y="621" textLength="303" lengthAdjust="spacingAndGlyphs">RESERVED. NO LIABILITY IS ASSUMED FOR</text>
<text x="5882" y="641" textLength="308" lengthAdjust="spacingAndGlyphs">ANY DEVIATIONS FROM THESE DOCUMENTS.</text>
</g>
<path d="M5951,708 V1720" stroke="#000" stroke-width="3"/><path d="M5961,708 V1720" stroke="#000" stroke-width="2"/>
<g class="p" font-weight="bold">
<text transform="translate(5940,1720) rotate(-90)" font-size="76" textLength="777" lengthAdjust="spacingAndGlyphs">NIKSI ARCHITECTURE</text>
<text transform="translate(5999,1720) rotate(-90)" font-size="40" textLength="993" lengthAdjust="spacingAndGlyphs">13951 NORTH SCOTTSDALE ROAD, SUITE # 211</text>
<text transform="translate(6046,1720) rotate(-90)" font-size="40" textLength="648" lengthAdjust="spacingAndGlyphs">SCOTTSDALE, ARIZONA 85254</text>
<text transform="translate(6094,1720) rotate(-90)" font-size="40" textLength="505" lengthAdjust="spacingAndGlyphs">OFFICE: (480) 604-2666</text>
<text transform="translate(6142,1720) rotate(-90)" font-size="40" textLength="686" lengthAdjust="spacingAndGlyphs">E-mail: architecture@niksi.com</text>
<text transform="translate(6190,1720) rotate(-90)" font-size="40" textLength="543" lengthAdjust="spacingAndGlyphs">WEB site: www.niksi.com</text>
</g>
<text class="p" transform="translate(6190,2667) rotate(-90)" font-size="52" textLength="287" lengthAdjust="spacingAndGlyphs">ROOF PLAN</text>
<g class="q" font-size="22">
<text x="5885" y="2762" textLength="94" lengthAdjust="spacingAndGlyphs">DRAWN</text>
<text x="6190" y="2762" text-anchor="end">LAO</text>
<text x="5885" y="2797" textLength="110" lengthAdjust="spacingAndGlyphs">CHECKED</text>
<text x="6190" y="2797" text-anchor="end">LAO</text>
<text x="5885" y="2832" textLength="103" lengthAdjust="spacingAndGlyphs">JOB NO.</text>
<text x="6190" y="2832" text-anchor="end">2401</text>
<text x="5885" y="2867" textLength="66" lengthAdjust="spacingAndGlyphs">DATE</text>
<text x="6190" y="2867" text-anchor="end" textLength="186" lengthAdjust="spacingAndGlyphs">MARCH. 4, 2026</text>
<text x="5885" y="2920" textLength="139" lengthAdjust="spacingAndGlyphs">REVISIONS</text>
</g>
<path d="M5985,2764 H6145 M6010,2799 H6145 M5995,2834 H6140 M5960,2869 H6190" stroke="#000" stroke-width="1.5"/>
<g class="p" font-weight="bold">
<text transform="translate(5906,4102) rotate(-90)" font-size="32" textLength="632" lengthAdjust="spacingAndGlyphs">JEWEL OF 148TH STREET RESIDENCE</text>
<text transform="translate(5944,3891) rotate(-90)" font-size="19" textLength="220" lengthAdjust="spacingAndGlyphs">RIO VERDDE</text>
<text transform="translate(6043,3796) rotate(-90)" font-size="13" textLength="33" lengthAdjust="spacingAndGlyphs">AT</text>
<text transform="translate(6166,3996) rotate(-90)" font-size="18" textLength="430" lengthAdjust="spacingAndGlyphs">EAST DALE LANE &amp; NORTH 148TH STREET</text>
<text transform="translate(6189,3949) rotate(-90)" font-size="16" textLength="335" lengthAdjust="spacingAndGlyphs">SCOTTSDALE, ARIZONA 85262</text>
</g>
<text class="q" x="5968" y="4240" font-size="22" textLength="139" lengthAdjust="spacingAndGlyphs">SHEET NO.</text>
<text class="q" x="5945" y="4350" font-size="78" font-weight="bold" textLength="195" lengthAdjust="spacingAndGlyphs">A6.1</text>
</svg>
</body></html>
